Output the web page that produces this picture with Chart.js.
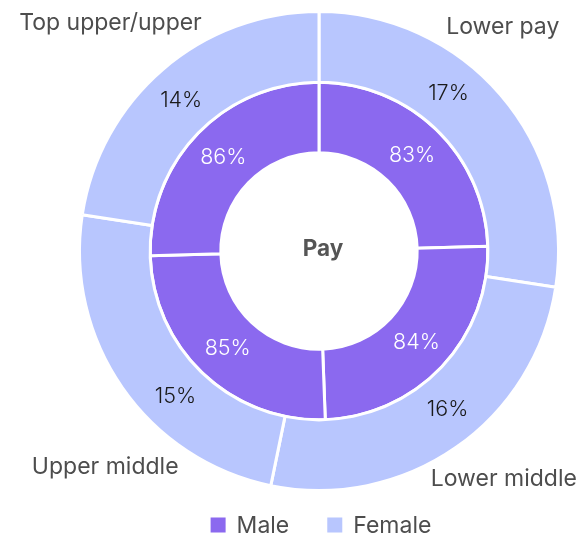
<!DOCTYPE html>
<html>
<head>
<meta charset="utf-8">
<script src="https://cdn.jsdelivr.net/npm/chart.js@4"></script>
<style>
  html, body { margin: 0; padding: 0; background: #fff; }
  #wrap { width: 584px; height: 537px; }
</style>
</head>
<body>
<div id="wrap"><canvas id="payChart"></canvas></div>
<script>
const categories = ['Lower pay', 'Lower middle', 'Upper middle', 'Top upper/upper'];
const maleValues = [83, 84, 85, 86];
const femaleValues = [17, 16, 15, 14];

const MALE_COLOR = '#8b69ef';
const FEMALE_COLOR = '#b8c6fe';
const FONT = 'Inter, "Noto Sans", sans-serif';

// percentages on the rings plus the category names outside
const ringLabels = {
    id: 'ringLabels',
    afterDatasetsDraw(chart, args, opts) {
        const ctx = chart.ctx;
        ctx.save();
        ctx.textAlign = 'center';
        ctx.textBaseline = 'middle';
        chart.data.datasets.forEach((ds, di) => {
            const meta = chart.getDatasetMeta(di);
            const outer = di === 0;
            meta.data.forEach((arc, i) => {
                const p = arc.getProps(['x', 'y', 'startAngle', 'endAngle', 'innerRadius', 'outerRadius']);
                let a = (p.startAngle + p.endAngle) / 2;
                if (outer) a += opts.shifts[i] * Math.PI / 180;
                const r = (p.innerRadius + p.outerRadius) / 2;
                ctx.font = '300 21.5px ' + FONT;
                ctx.fillStyle = outer ? '#1a1a1a' : '#ffffff';
                ctx.fillText(ds.data[i] + '%', p.x + r * Math.cos(a), p.y + r * Math.sin(a));
                if (outer) {
                    const rr = p.outerRadius * opts.nameRadius[i];
                    ctx.font = '400 23px ' + FONT;
                    ctx.fillStyle = '#4d4d4d';
                    ctx.fillText(chart.data.labels[i], p.x + rr * Math.cos(a), p.y + rr * Math.sin(a));
                }
            });
        });
        // centre title
        const m = chart.getDatasetMeta(0).data[0];
        ctx.font = '700 22.5px ' + FONT;
        ctx.fillStyle = '#555555';
        ctx.fillText('Pay', m.x + 4, m.y - 2);
        ctx.restore();
    }
};

// legend by series (Male / Female) under the chart
const seriesLegend = {
    id: 'seriesLegend',
    afterDraw(chart) {
        const ctx = chart.ctx;
        const items = [
            {text: 'Male', color: MALE_COLOR},
            {text: 'Female', color: FEMALE_COLOR}
        ];
        const centre = chart.getDatasetMeta(0).data[0].x;
        ctx.save();
        ctx.font = '400 23px ' + FONT;
        ctx.textBaseline = 'middle';
        ctx.textAlign = 'left';
        const box = 15, gapText = 11, gapItem = 38;
        let total = 0;
        items.forEach((it, i) => {
            it.w = box + gapText + ctx.measureText(it.text).width;
            total += it.w + (i ? gapItem : 0);
        });
        let x = centre + 2 - total / 2;
        const y = chart.chartArea.bottom + 33;
        items.forEach(it => {
            ctx.fillStyle = it.color;
            ctx.fillRect(x, y - box / 2, box, box);
            ctx.fillStyle = '#4d4d4d';
            ctx.fillText(it.text, x + box + gapText, y + 1);
            x += it.w + gapItem;
        });
        ctx.restore();
    }
};

new Chart(document.getElementById('payChart'), {
    type: 'doughnut',
    data: {
        labels: categories,
        datasets: [{
            label: 'Female',
            data: femaleValues,
            backgroundColor: FEMALE_COLOR,
            borderColor: '#ffffff',
            borderWidth: 3,
            hoverOffset: 0
        }, {
            label: 'Male',
            data: maleValues,
            backgroundColor: MALE_COLOR,
            borderColor: '#ffffff',
            borderWidth: 3,
            hoverOffset: 0
        }]
    },
    options: {
        responsive: true,
        maintainAspectRatio: false,
        animation: false,
        cutout: '41%',
        layout: {
            padding: {left: 78, right: 24, top: 10, bottom: 45}
        },
        plugins: {
            legend: {display: false},
            tooltip: {enabled: false},
            ringLabels: {
                shifts: [-10, -4.2, -10.5, -1.8],
                nameRadius: [1.21, 1.225, 1.27, 1.29]
            }
        }
    },
    plugins: [ringLabels, seriesLegend]
});
</script>
</body>
</html>
